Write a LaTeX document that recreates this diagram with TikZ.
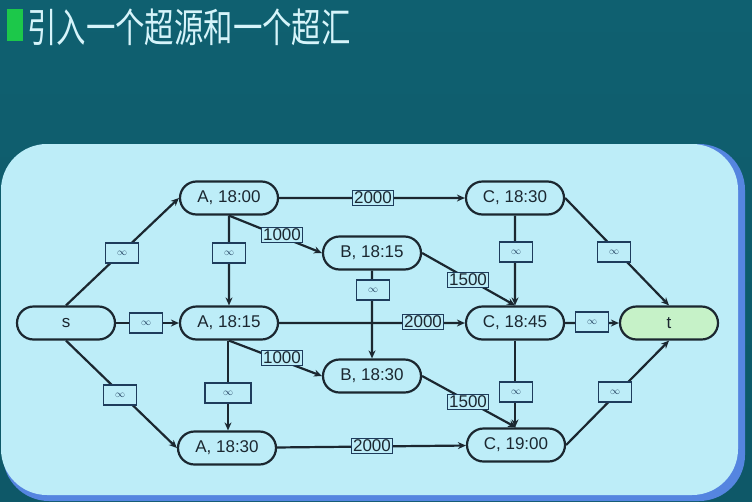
\documentclass[tikz,border=0pt]{standalone}
\usepackage{fontspec}
\setmainfont{Liberation Sans}
\newfontfamily\cjkfont{Noto Sans CJK SC}
\usetikzlibrary{arrows.meta,shapes.misc}
\definecolor{bgteal}{HTML}{0E5868}
\definecolor{bgtop}{HTML}{0F6070}
\definecolor{panel}{HTML}{BDEDF8}
\definecolor{panelshadow}{HTML}{5585E0}
\definecolor{titletext}{HTML}{D6F4FA}
\definecolor{bullet}{HTML}{1CC84A}
\definecolor{ink}{HTML}{1B2730}
\definecolor{boxink}{HTML}{1E3C5C}
\definecolor{sinkfill}{HTML}{C6F2C8}
\tikzset{
  event/.style={draw=ink, line width=2.2pt, rounded rectangle, fill=panel,
    minimum width=98pt, minimum height=33pt, inner sep=0pt,
    font=\fontsize{17}{19}\selectfont, text=ink},
  cap1/.style={draw=boxink, line width=1.6pt, fill=panel, inner sep=1.5pt,
    font=\fontsize{17}{18}\selectfont, text=ink},
  capinf/.style={draw=boxink, line width=1.6pt, fill=panel, inner sep=0pt,
    minimum width=33pt, minimum height=20pt, text=boxink,
    font=\fontsize{10}{12}\selectfont},
  flow/.style={draw=ink, line width=2.2pt, -{Stealth[length=8pt,width=7pt]}},
}
\newcommand{\inflab}{$\infty$}
\begin{document}
\begin{tikzpicture}[x=1pt,y=-1pt]
  % canvas
  \useasboundingbox (0,0) rectangle (752,501);
  \shade[top color=bgtop, bottom color=bgteal] (0,0) rectangle (752,501);
  % title line
  \fill[bullet] (7,9) rectangle (23,41);
  \node[anchor=west, text=titletext, inner sep=0pt] (title) at (27,27)
    {\cjkfont\fontsize{40}{42}\selectfont\scalebox{0.735}[1]{引入一个超源和一个超汇}};
  % panel with its blue edge
  \fill[panelshadow, rounded corners=46pt] (3,144) rectangle (745,501);
  \fill[panel, rounded corners=46pt] (1,144) rectangle (738,495);

  % event nodes
  \node[event] (s)   at (66,323)  {s};
  \node[event] (a0)  at (229,198) {A, 18:00};
  \node[event] (a1)  at (229,323) {A, 18:15};
  \node[event] (a2)  at (227,448) {A, 18:30};
  \node[event] (b1)  at (372,253) {B, 18:15};
  \node[event] (b2)  at (372,376) {B, 18:30};
  \node[event] (c0)  at (515,198) {C, 18:30};
  \node[event] (c1)  at (515,323) {C, 18:45};
  \node[event] (c2)  at (516,445) {C, 19:00};
  \node[event, fill=sinkfill] (t) at (669,323) {t};

  % connectors
  \path[flow] (s.north) -- (a0.west);
  \path[flow] (s.east) -- (a1.west);
  \path[flow] (s.south) -- (a2.west);
  \path[flow] (a0) -- (c0);
  \path[flow] (a1) -- (c1);
  \path[flow] (a2) -- (c2);
  \path[flow] (a0) -- (a1);
  \path[flow] ([xshift=-1pt]a1.south) -- ([xshift=-1pt]a1.south |- a2.north);
  \path[flow] (a0.south) -- (b1.west);
  \path[flow] (a1.south) -- (b2.west);
  \path[flow] (b1) -- (b2);
  \path[flow] (b1.east) -- (c1.north);
  \path[flow] (b2.east) -- (c2.north);
  \path[flow] (c0) -- (c1);
  \path[flow] (c1.south) -- (c1.south |- c2.north);
  \path[flow] (c1) -- (t);
  \path[flow] (c0.east) -- (t.north);
  \path[flow] (c2.east) -- (t.south);

  % capacities
  \node[capinf] (ls0) at (122,253) {\inflab};
  \node[capinf] (ls1) at (146,323) {\inflab};
  \node[capinf] (ls2) at (120,395) {\inflab};
  \node[capinf] (la01) at (229,253) {\inflab};
  \node[capinf, minimum width=46pt] (la12) at (228,393) {\inflab};
  \node[capinf] (lb) at (373,290) {\inflab};
  \node[capinf] (lc01) at (516,252) {\inflab};
  \node[capinf] (lc12) at (516,392) {\inflab};
  \node[capinf] (lct0) at (614,252) {\inflab};
  \node[capinf] (lct1) at (592,322) {\inflab};
  \node[capinf] (lct2) at (615,392) {\inflab};
  \node[cap1] (l0b1) at (282,235) {1000};
  \node[cap1] (l1b2) at (282,358) {1000};
  \node[cap1] (lb1c) at (468,280) {1500};
  \node[cap1] (lb2c) at (468,402) {1500};
  \node[cap1] (lac0) at (373,198) {2000};
  \node[cap1] (lac1) at (423,322) {2000};
  \node[cap1] (lac2) at (372,446) {2000};
\end{tikzpicture}
\end{document}
